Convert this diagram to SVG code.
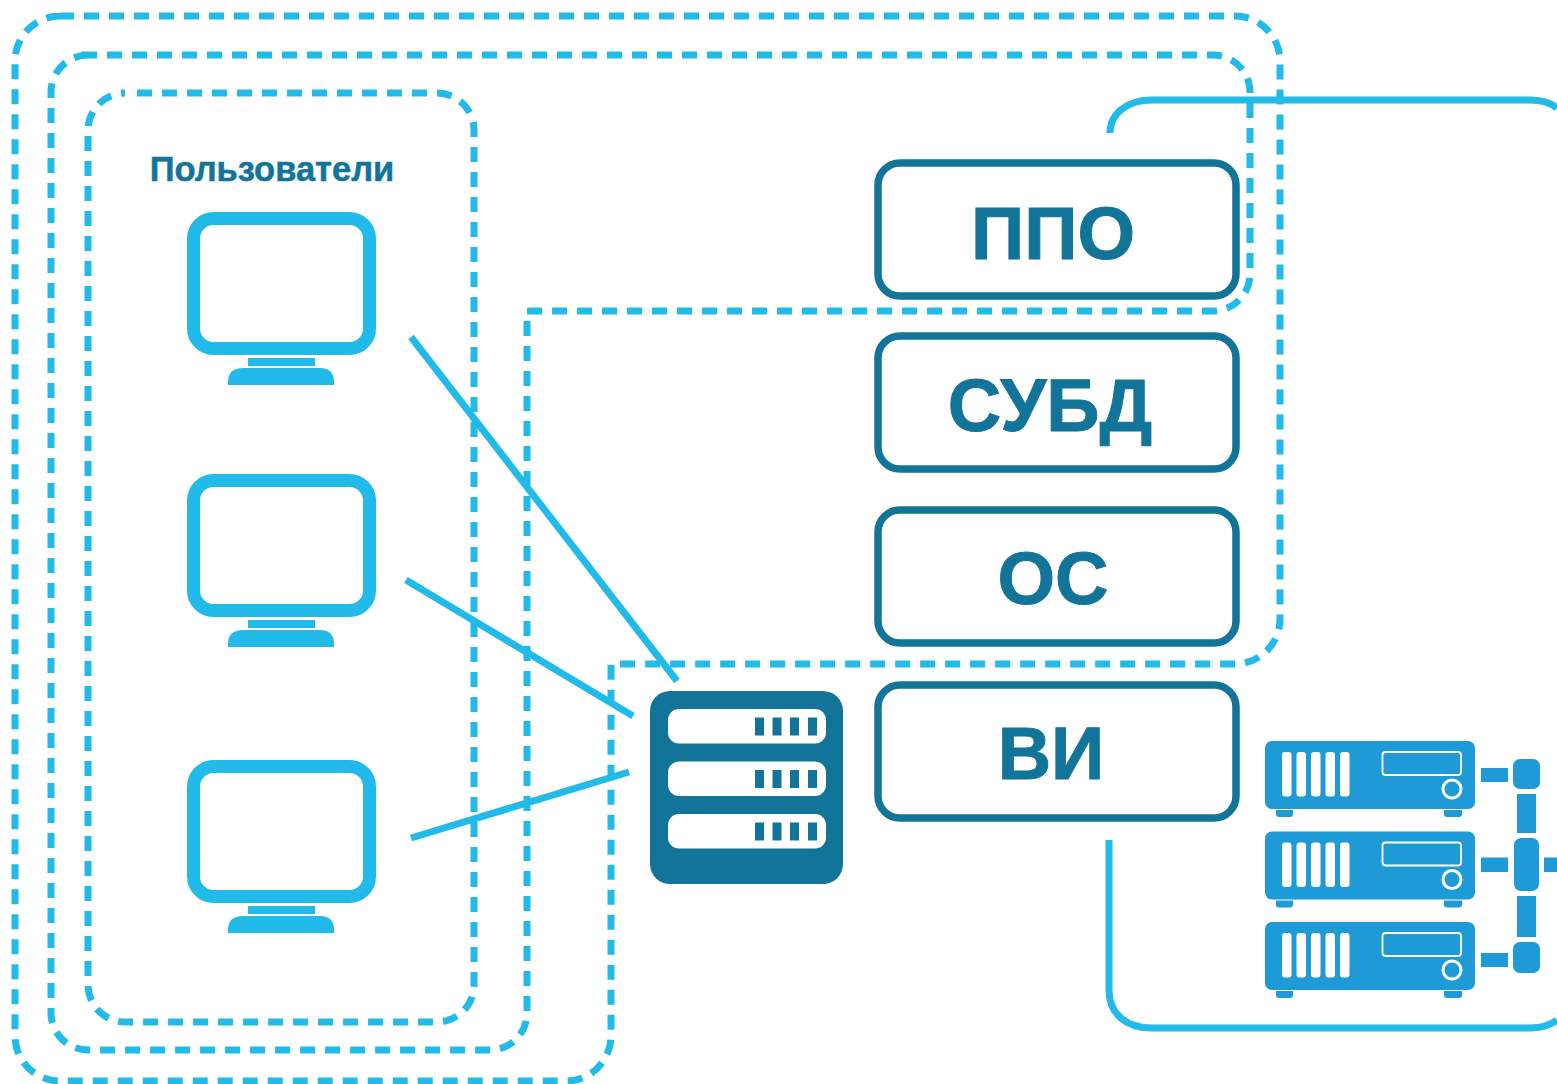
<svg xmlns="http://www.w3.org/2000/svg" width="1557" height="1084" viewBox="0 0 1557 1084">
<style>
.dash{fill:none;stroke:#22bbe9;stroke-width:7;stroke-dasharray:15 10}
.wire{fill:none;stroke:#22bbe9;stroke-width:7}
.box{fill:#fff;stroke:#137499;stroke-width:7.500}
.lbl{font-family:"Liberation Sans",Arial,sans-serif;font-weight:700;fill:#137499;stroke:#137499;stroke-width:1;text-anchor:middle}
.mon{fill:#22bbe9}
.srv{fill:#137499}
.slot{fill:#fff}
.eq{fill:#1e9ad6}
.w{fill:#fff}
.ln{fill:none;stroke:#fff}
</style>
<defs>
<g id="monitor">
<rect x="193.500" y="218.500" width="176" height="130" rx="20" fill="#fff" stroke="#22bbe9" stroke-width="13"/>
<rect class="mon" x="248" y="358" width="67" height="8"/>
<path class="mon" d="M228 385V382Q228 368 243 368H320Q334 368 334 382V385Z"/>
</g>
<g id="unit">
<rect class="eq" x="1265" y="741" width="210" height="68" rx="7"/>
<path class="eq" d="M1276 810H1293V814Q1293 817 1290 817H1279Q1276 817 1276 814Z"/>
<path class="eq" d="M1444 810H1462V814Q1462 817 1459 817H1447Q1444 817 1444 814Z"/>
<rect class="w" x="1282" y="752" width="9.500" height="44.500" rx="3"/>
<rect class="w" x="1296.500" y="752" width="9.500" height="44.500" rx="3"/>
<rect class="w" x="1311" y="752" width="9.500" height="44.500" rx="3"/>
<rect class="w" x="1325.500" y="752" width="9.500" height="44.500" rx="3"/>
<rect class="w" x="1340" y="752" width="9.500" height="44.500" rx="3"/>
<rect class="ln" x="1382.500" y="752" width="78.500" height="23" rx="3" stroke-width="1.800"/>
<circle class="ln" cx="1452" cy="789" r="9" stroke-width="3"/>
</g>
<g id="slotrow">
<rect class="slot" x="668" y="709" width="158" height="34.500" rx="11"/>
<rect class="srv" x="755" y="717.500" width="9" height="18"/>
<rect class="srv" x="772.500" y="717.500" width="9" height="18"/>
<rect class="srv" x="790" y="717.500" width="9" height="18"/>
<rect class="srv" x="808" y="717.500" width="9" height="18"/>
</g>
</defs>

<g id="zones">
<path id="zone-outer" class="dash" d="M59 16H1235A45 45 0 0 1 1280 61V619A45 45 0 0 1 1235 664H611V1036A45 45 0 0 1 566 1081H60A45 45 0 0 1 15 1036V61A45 45 0 0 1 60 16"/>
<path id="zone-middle" class="dash" d="M82 55H1213A37 37 0 0 1 1250 92V274A37 37 0 0 1 1213 311H527V1013A37 37 0 0 1 490 1050H88A37 37 0 0 1 51 1013V92A37 37 0 0 1 88 55"/>
<path id="zone-inner" class="dash" d="M137 93H437A37 37 0 0 1 474 130V985A37 37 0 0 1 437 1022H125A37 37 0 0 1 88 985V130A37 37 0 0 1 125 93"/>
</g>

<g id="users-label"><text class="lbl" x="272" y="181" font-size="34.500" style="stroke-width:.5">Пользователи</text></g>

<g id="monitor-1"><use href="#monitor"/></g>
<g id="monitor-2"><use href="#monitor" y="262"/></g>
<g id="monitor-3"><use href="#monitor" y="548"/></g>

<g id="connectors">
<path class="wire" d="M411 337L677 681"/>
<path class="wire" d="M406 580L633 716"/>
<path class="wire" d="M411 838L629 772"/>
<path class="wire" d="M1110 133C1110 113 1128 100 1152 100H1530Q1547 100 1557 108"/>
<path class="wire" d="M1109 840V990C1109 1014 1126 1028 1152 1028H1530Q1547 1028 1557 1020"/>
</g>

<g id="server">
<rect class="srv" x="650" y="691" width="193" height="193" rx="20"/>
<use href="#slotrow"/>
<use href="#slotrow" y="52.500"/>
<use href="#slotrow" y="105"/>
</g>

<g id="box-ppo"><rect class="box" x="878" y="163" width="358" height="133" rx="22"/><text class="lbl" x="1053" y="259" font-size="74">ППО</text></g>
<g id="box-subd"><rect class="box" x="878" y="336" width="358" height="133" rx="22"/><text class="lbl" x="1050" y="431" font-size="74">СУБД</text></g>
<g id="box-os"><rect class="box" x="878" y="510" width="358" height="133" rx="22"/><text class="lbl" x="1053" y="604" font-size="74">ОС</text></g>
<g id="box-vi"><rect class="box" x="878" y="685" width="358" height="133" rx="22"/><text class="lbl" x="1051" y="779" font-size="74">ВИ</text></g>

<g id="equipment">
<use href="#unit"/>
<use href="#unit" y="90.500"/>
<use href="#unit" y="181"/>
<rect class="eq" x="1481" y="768" width="27" height="14"/>
<rect class="eq" x="1481" y="857.500" width="27" height="14.500"/>
<rect class="eq" x="1481" y="953" width="27" height="14"/>
<rect class="eq" x="1544" y="857.500" width="13" height="14.500"/>
<rect class="eq" x="1513" y="759" width="27" height="30" rx="7"/>
<rect class="eq" x="1517" y="794" width="19" height="39"/>
<rect class="eq" x="1514" y="838" width="25" height="53" rx="7"/>
<rect class="eq" x="1517" y="896" width="19" height="41"/>
<rect class="eq" x="1513" y="942" width="27" height="31" rx="7"/>
</g>
</svg>
